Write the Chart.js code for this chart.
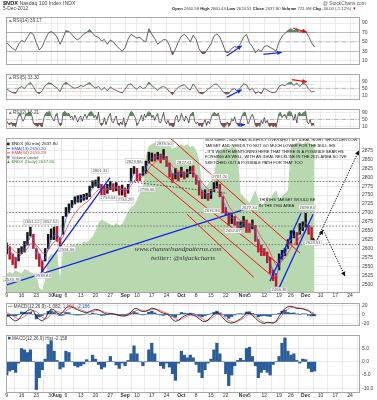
<!DOCTYPE html>
<html>
<head>
<meta charset="utf-8">
<script src="https://cdn.jsdelivr.net/npm/chart.js@4.4.1/dist/chart.umd.min.js"></script>
<style>
html,body{margin:0;padding:0;background:#fff;}
#wrap{position:relative;width:377px;height:400px;overflow:hidden;background:#fff;}
canvas{position:absolute;left:0;}
</style>
</head>
<body>
<div id="wrap">
  <canvas id="cT" width="377" height="12" style="top:0px"></canvas>
  <canvas id="cR14" width="377" height="57" style="top:12px"></canvas>
  <canvas id="cR5" width="377" height="35" style="top:69px"></canvas>
  <canvas id="cR2" width="377" height="29" style="top:104px"></canvas>
  <canvas id="cP" width="377" height="165" style="top:133px"></canvas>
  <canvas id="cM" width="377" height="32" style="top:298px"></canvas>
  <canvas id="cH" width="377" height="70" style="top:330px"></canvas>
</div>
<script>
// NDX 60 min, Jul 9 - Dec 5 2012, one value per trading day (x = trading day index, 0 = Jul 9)
const XMIN = -0.25, XMAX = 119.35;
const FONT = '"Liberation Sans", Arial, sans-serif';

const tickPos  = [0, 5, 10, 15, 17, 20, 25, 30, 35, 40, 44, 49, 54, 59, 64, 69, 74, 80, 82, 87, 92, 96, 101, 106, 111, 116];
const tickText = ['9','16','23','30','Aug','6','13','20','27','Sep','10','17','24','Oct','8','15','22','Nov','5','12','19','26','Dec','10','17','24'];

const priceLow = [2585,2570,2555,2545,2565,2585,2590,2610,2635,2600,
  2570,2550,2535,2565,2600,2625,2625,2620,2601,2640,
  2690,2700,2715,2725,2730,2730,2735,2738,2745,2770,
  2775,2770,2750,2750,2755,2765,2760,2762,2750,2750,
  2744,2755,2790,2810,2790,2790,2805,2810,2840,2845,
  2845,2850,2840,2850,2830,2800,2785,2795,2790,2800,
  2795,2800,2810,2800,2780,2750,2740,2740,2735,2740,
  2760,2770,2745,2700,2695,2665,2670,2665,2645,2650,
  2660,2645,2645,2655,2620,2590,2580,2580,2560,2530,
  2510,2494,2540,2570,2580,2600,2615,2630,2610,2640,
  2650,2660,2640,2624];
const priceHigh = [2615,2605,2585,2575,2600,2605,2620,2645,2660,2640,
  2600,2585,2565,2600,2640,2655,2660,2662,2630,2690,
  2715,2725,2735,2745,2748,2750,2752,2755,2775,2790,
  2792,2801,2780,2775,2780,2788,2782,2785,2775,2778,
  2770,2780,2825,2830,2825,2810,2830,2845,2870,2868,
  2865,2870,2865,2878,2858,2840,2810,2825,2815,2828,
  2815,2822,2830,2832,2805,2790,2760,2765,2755,2765,
  2785,2788,2780,2745,2715,2700,2695,2690,2675,2675,
  2690,2680,2670,2680,2665,2625,2610,2600,2590,2575,
  2540,2530,2585,2595,2600,2625,2650,2650,2645,2670,
  2675,2699,2665,2660];
const ema13 = [2603,2595,2582,2570,2574,2585,2597,2614,2634,2628,
  2603,2582,2563,2572,2600,2625,2637,2640,2625,2648,
  2683,2703,2717,2729,2736,2739,2742,2745,2754,2770,
  2779,2783,2772,2766,2767,2773,2771,2772,2766,2765,
  2760,2765,2792,2811,2809,2803,2812,2823,2845,2853,
  2855,2858,2855,2861,2850,2830,2808,2809,2805,2811,
  2807,2810,2817,2816,2800,2780,2760,2755,2748,2751,
  2766,2775,2767,2737,2714,2692,2686,2680,2666,2664,
  2671,2665,2660,2665,2650,2620,2603,2594,2581,2561,
  2536,2520,2548,2572,2585,2604,2625,2636,2630,2648,
  2658,2673,2660,2650];
const ema34 = [2612,2606,2598,2589,2586,2587,2591,2600,2613,2617,
  2610,2600,2588,2586,2595,2608,2618,2625,2622,2632,
  2653,2670,2685,2698,2709,2717,2724,2730,2737,2748,
  2757,2765,2765,2765,2765,2768,2769,2770,2768,2767,
  2765,2765,2777,2790,2795,2797,2802,2809,2824,2834,
  2841,2847,2849,2853,2851,2843,2830,2824,2818,2817,
  2814,2813,2815,2815,2808,2797,2784,2775,2766,2762,
  2765,2769,2767,2752,2737,2719,2707,2697,2685,2678,
  2677,2674,2670,2669,2662,2645,2630,2618,2605,2590,
  2570,2553,2556,2565,2574,2587,2602,2614,2618,2630,
  2641,2654,2656,2659];
// green background indicator (own hidden 0-100 scale)
const greenArea = [12,13,12,14,13,12,15,14,13,12,
  11,3,1,8,22,25,24,26,9,28,
  30,29,31,30,32,30,33,32,34,36,
  40,45,47,46,45,44,43,45,43,44,
  48,52,55,56,60,64,68,88,95,96,
  97,96,97,96,94,95,93,94,95,96,
  95,96,94,95,92,85,70,68,70,72,
  75,88,92,93,94,93,94,94,92,64,
  62,60,58,62,66,60,56,58,62,60,
  64,66,60,62,64,66,95,96,97,97,
  96,97,97,96,96];

const rsi14 = [48,42,36,32,45,53,50,60,70,66,
  48,33,40,55,68,72,68,60,45,58,
  74,72,66,58,54,60,66,70,76,68,
  62,60,52,55,45,54,50,42,36,30,
  38,56,66,62,58,60,53,50,78,66,
  57,45,50,55,54,42,22,35,50,62,
  66,60,50,64,55,35,25,26,36,45,
  62,67,60,45,28,28,36,40,38,46,
  60,66,48,40,27,34,30,40,42,38,
  35,30,50,62,68,74,78,73,78,70,
  75,72,62,48,39];
const rsi5 = [45,35,25,22,50,60,48,70,82,60,
  30,20,38,65,80,78,62,52,30,70,
  85,70,58,50,55,65,60,72,82,62,
  52,60,40,55,35,58,45,38,30,25,
  45,70,75,55,45,62,48,55,85,65,
  52,40,55,60,50,30,15,40,55,65,
  70,52,40,75,50,25,18,30,45,55,
  72,74,55,32,18,20,42,48,30,55,
  75,70,40,50,22,30,20,50,40,30,
  25,30,60,70,65,78,85,65,80,60,
  78,72,45,30,33];
// two readings per day
const rsi2 = [40,25,18,35,12,20,8,45,75,85,60,40,55,80,85,92,90,70,30,20,
  15,10,25,12,8,55,80,90,92,95,70,55,40,75,85,35,15,20,88,95,
  90,80,85,60,70,45,75,55,35,60,70,40,65,80,55,75,90,95,88,60,
  75,50,92,30,15,25,60,20,45,70,85,40,30,55,70,25,15,35,20,60,
  10,30,55,80,95,90,70,55,15,30,50,75,40,80,60,85,95,88,60,75,
  45,70,85,35,30,60,90,40,25,45,15,20,8,12,60,75,35,50,85,60,
  40,70,55,30,75,85,92,40,25,35,12,20,8,30,50,15,40,25,55,80,
  90,85,75,88,45,20,10,5,15,35,10,20,55,40,65,30,20,10,45,70,
  88,92,60,25,40,65,80,55,15,8,20,10,45,25,60,30,45,15,10,20,
  8,15,5,45,85,90,60,75,80,55,90,95,92,70,45,80,30,85,90,75,
  85,92,95,35,25,50,15,20,16];

const macdLine = [-1.6,-6,-12,-15,-12,-3,3,8,11,8,
  -5,-12,-15,-10,3,12,10,3,0,5,
  14,19,17,13,10,7,5,3,6,9,
  11,10,6,2,0,1,1,-1,-3,-4,
  -4,-1,5,12,13,8,6,7,10,14,
  12,9,5,2,1,-3,-12,-16,-14,-8,
  -4,-1,0,-2,-5,-10,-15,-17,-13,-6,
  0,4,0,-8,-15,-19,-20,-18,-14,-10,
  -5,3,2,-3,-9,-15,-19,-21,-18,-19,
  -20,-16,-5,5,13,17,18,16,13,13,
  12,10,7,2,-2];
const macdSignal = [3,1,-4,-8,-11,-9,-5,0,5,8,
  6,0,-7,-11,-8,0,6,7,4,3,
  7,12,15,15,13,10,8,5,5,6,
  8,9,8,5,3,2,1,0,-1,-3,
  -3,-3,0,5,9,10,8,7,8,11,
  12,11,8,5,3,0,-5,-10,-13,-11,
  -8,-4,-2,-2,-3,-6,-10,-14,-14,-10,
  -5,0,1,-3,-9,-14,-17,-18,-16,-13,
  -9,-3,0,-1,-5,-10,-15,-18,-19,-19,
  -19,-17,-11,-2,6,12,15,16,15,14,
  13,11,9,5,1];
const macdHist = [-5,-3.5,-3,-4,-0.5,5,4.5,3.5,4.5,0,
  -10.5,-6,-3,1,6.5,8,4,0.5,-2.7,-2,
  4,3.5,0,-1.5,-2,-1.5,-0.8,0.8,0,2.5,
  1,-1,-2.7,-2,0,2,0,-1.2,-2.5,-0.5,
  -1.5,0.5,3,6,3,0,-1.5,0,4.5,7,
  3,0,-1.5,-2.5,-0.5,-2,-4.5,-7,-0.5,4,
  2.5,1.5,2.5,1.5,-1,-4,-6,-3,-0.5,1,
  4.5,7,3,0,-4.5,-9,-5,-1.5,0.5,1.3,
  0.5,5,5.5,2,-1.5,-6,-4,-3,-4,-5,
  -1,0,2,7,9,4,2.5,3,0.5,-0.5,
  1,0.8,-2.5,-3.8,-3.5];

// chart annotations, in [day index, price]
const blueLines = [
  [[-2.3, 2492], [82.2, 2715]],
  [[11.2, 2527], [34.9, 2799]],
  [[88.9, 2508], [99.4, 2698]],
  [[92.0, 2489], [103.5, 2696]]
];
const redLines = [
  [[55.2, 2910], [99.1, 2587]],
  [[47.4, 2845], [91.3, 2560]],
  [[47.4, 2818], [91.3, 2511]],
  [[60.9, 2696], [83.5, 2519]]
];
const levelLines = [2788, 2701, 2663, 2611];
const necklines = [[[41, 2788], [74.4, 2755]]];
const pathArrows = [
  [[102.8, 2628], [104.5, 2619]],
  [[104.5, 2619], [119.0, 2875]],
  [[104.5, 2619], [106.9, 2652]],
  [[106.9, 2652], [114.3, 2522]]
];
const priceTags = [
  [1.8, 2514, '2533.78'], [12.3, 2524, '2538.84'], [8.5, 2674, '2651.12'], [14.6, 2674, '2652.52'],
  [20.4, 2598, '2591.56'], [31.5, 2818, '2801.31'], [34.2, 2742, '2759.64'], [40, 2736, '2744.29'],
  [43, 2845, '2829.86'], [47.4, 2766, '2795.66'], [53.2, 2894, '2878.50'], [60, 2842, '2827.61'],
  [69.4, 2706, '2676.96'], [72, 2802, '2781.20'], [76.5, 2650, '2652.07'], [82, 2715, '2677.34'],
  [92, 2484, '2494.38'], [101.5, 2715, '2699.84'], [103.5, 2616, '2624.51']
];
const noteLines = ['NDX 60min - NDX HAS SLIGHTLY OVERSHOT MY IDEAL RIGHT SHOULDER LOW',
  'TARGET AND NEEDS TO NOT GO MUCH LOWER FOR THE BULL IHS',
  '- IT\'S WORTH MENTIONING HERE THAT THERE IS A POSSIBLE BEAR HS',
  'FORMING AS WELL, WITH AN IDEAL NECKLINE IN THE 2615 AREA SO I\'VE',
  'SKETCHED OUT A POSSIBLE PATH FOR THAT TOO'];
const rsi14Arrows = [['#1030e0', [74.3, 20], [79.4, 42]], ['#1030e0', [86.7, 23.5], [92.9, 27.5]], ['#e01010', [96.8, 79], [101.4, 70.5]]];
const rsi5Arrows = [['#1030e0', [74.3, -1], [79.4, 42]], ['#e01010', [96.3, 98], [101.4, 86]]];
const rsi2Arrows = [['#1030e0', [78.1, 18], [80.5, 20]]];

Chart.defaults.font.family = FONT;
Chart.defaults.animation = false;
Chart.defaults.plugins.legend.display = false;
Chart.defaults.plugins.tooltip.enabled = false;

// header line
(function () {
  const ctx = document.getElementById('cT').getContext('2d');
  ctx.textBaseline = 'middle';
  const run = (parts, x, y) => parts.forEach(([t, w, col, sz]) => {
    ctx.font = (w ? 'bold ' : '') + sz + 'px ' + FONT; ctx.fillStyle = col;
    ctx.fillText(t, x, y); x += ctx.measureText(t).width;
  });
  run([['$NDX ', 1, '#222', 5.6], ['Nasdaq 100 Index INDX', 0, '#444', 5.2]], 3, 3.5);
  run([['5-Dec-2012', 0, '#444', 4.8]], 3, 9);
  run([['@ StockCharts.com', 0, '#555', 4.8]], 323, 3.5);
  const S = 4.2;
  run([['Open ', 1, '#222', S], ['2660.58 ', 0, '#444', S], ['High ', 1, '#222', S], ['2660.44 ', 0, '#444', S],
       ['Low ', 1, '#222', S], ['2624.51 ', 0, '#444', S], ['Close ', 1, '#222', S], ['2637.80 ', 0, '#444', S],
       ['Volume ', 1, '#222', S], ['721.0M ', 0, '#444', S], ['Chg ', 1, '#222', S], ['-30.00 (-1.12%) ', 0, '#444', S],
       ['\u25BC', 0, '#d01010', S]], 172, 9);
})();

const xy = arr => arr.map((v, i) => ({ x: i, y: v }));
const seg = (a, b) => [{ x: a[0], y: a[1] }, { x: b[0], y: b[1] }];

function xScale(showLabels, h) {
  return {
    type: 'linear', min: XMIN, max: XMAX, offset: false,
    afterBuildTicks: s => { s.ticks = tickPos.map(v => ({ value: v })); },
    afterFit: s => { s.height = h; },
    grid: { color: '#e3e3e3', lineWidth: 0.7, drawTicks: false },
    border: { display: false },
    ticks: {
      display: showLabels, autoSkip: false, maxRotation: 0, padding: 1, color: '#333',
      font: c => ({ size: 5, weight: isNaN(+tickText[c.index]) ? 'bold' : 'normal' }),
      callback: (v, i) => tickText[i]
    }
  };
}
function yScale(min, max, ticks, fmt, gridColor) {
  return {
    position: 'right', min, max,
    afterBuildTicks: s => { s.ticks = ticks.map(v => ({ value: v })); },
    afterFit: s => { s.width = 17; },
    grid: { color: gridColor || '#e3e3e3', lineWidth: 0.7, drawTicks: false },
    border: { display: false },
    ticks: { font: { size: 5 }, color: '#444', padding: 2, callback: fmt || (v => v) }
  };
}

function arrow(ctx, x1, y1, x2, y2, color, dash, w) {
  ctx.save();
  ctx.strokeStyle = color; ctx.fillStyle = color; ctx.lineWidth = w;
  ctx.setLineDash(dash);
  ctx.beginPath(); ctx.moveTo(x1, y1); ctx.lineTo(x2, y2); ctx.stroke();
  ctx.setLineDash([]);
  const a = Math.atan2(y2 - y1, x2 - x1), L = 4.5, H = 2.2;
  ctx.beginPath();
  ctx.moveTo(x2, y2);
  ctx.lineTo(x2 - L * Math.cos(a) + H * Math.sin(a), y2 - L * Math.sin(a) - H * Math.cos(a));
  ctx.lineTo(x2 - L * Math.cos(a) - H * Math.sin(a), y2 - L * Math.sin(a) + H * Math.cos(a));
  ctx.closePath(); ctx.fill();
  ctx.restore();
}

const frame = {
  id: 'frame',
  afterDraw(c) {
    const a = c.chartArea, ctx = c.ctx;
    ctx.save(); ctx.strokeStyle = '#a8a8a8'; ctx.lineWidth = 1;
    ctx.strokeRect(Math.round(a.left) + 0.5, Math.round(a.top) + 0.5, Math.round(a.width) - 1, Math.round(a.height));
    ctx.restore();
  }
};

function rsiChart(id, vals, step, ymin, ymax, name, arrows) {
  const pts = vals.map((v, i) => ({ x: i * step, y: v }));
  return new Chart(document.getElementById(id), {
    type: 'line',
    data: {
      datasets: [
        { data: pts, borderWidth: 0, pointRadius: 0, fill: { target: { value: 70 }, above: '#5b8a5b', below: 'rgba(0,0,0,0)' } },
        { data: pts, borderWidth: 0, pointRadius: 0, fill: { target: { value: 30 }, above: 'rgba(0,0,0,0)', below: '#8e4b4b' } },
        { data: [{ x: XMIN, y: 50 }, { x: XMAX, y: 50 }], borderColor: '#999', borderWidth: 0.7, borderDash: [4, 1.5, 1, 1.5], pointRadius: 0 },
        { data: pts, borderColor: '#222', borderWidth: 0.7, pointRadius: 0, tension: 0 }
      ]
    },
    options: {
      responsive: false, devicePixelRatio: 1,
      layout: { padding: { left: 6 } },
      scales: {
        x: xScale(false, 0),
        y: yScale(ymin, ymax, [10, 30, 50, 70, 90], null, c => (c.tick.value === 70 || c.tick.value === 30) ? '#a0a0a0' : '#e3e3e3')
      }
    },
    plugins: [frame, {
      id: 'rsiNotes',
      afterDatasetsDraw(c) {
        const { x, y } = c.scales, ctx = c.ctx;
        arrows.forEach(([col, a, b]) => arrow(ctx, x.getPixelForValue(a[0]), y.getPixelForValue(a[1]), x.getPixelForValue(b[0]), y.getPixelForValue(b[1]), col, [], 1.2));
        ctx.save(); ctx.font = '4.6px ' + FONT; ctx.textBaseline = 'top';
        ctx.fillStyle = '#777'; ctx.fillText('\u25B2', c.chartArea.left + 2, c.chartArea.top + 1.5);
        ctx.fillStyle = '#444'; ctx.fillText(name, c.chartArea.left + 7, c.chartArea.top + 1.5);
        ctx.restore();
      }
    }]
  });
}

rsiChart('cR14', rsi14, 1, 3, 102.8, 'RSI(14) 39.17', rsi14Arrows);
rsiChart('cR5', rsi5, 1, -10, 130, 'RSI(5) 33.30', rsi5Arrows);
rsiChart('cR2', rsi2, 0.5, 1, 110, 'RSI(2) 16.21', rsi2Arrows);

// price panel
const bars = priceLow.map((l, i) => ({ x: i, y: [l, priceHigh[i]] }));
const mid = priceLow.map((l, i) => (l + priceHigh[i]) / 2);
const lineSet = (pts, color, w, dash) => ({ type: 'line', data: pts, borderColor: color, borderWidth: w, borderDash: dash || [], pointRadius: 0, order: 0 });

const annot = {
  id: 'annot',
  afterDatasetsDraw(c) {
    const { x, y } = c.scales, ctx = c.ctx, T = c.chartArea.top;
    const px = v => x.getPixelForValue(v), py = v => y.getPixelForValue(v);
    pathArrows.forEach(([a, b]) => arrow(ctx, px(a[0]), py(a[1]), px(b[0]), py(b[1]), '#111', [1.3, 1.3], 1));
    ctx.save();
    ctx.font = '4.2px ' + FONT; ctx.textAlign = 'center'; ctx.textBaseline = 'middle';
    priceTags.forEach(([i, v, t]) => {
      const w = ctx.measureText(t).width + 2, X = px(i), Y = py(v);
      ctx.fillStyle = 'rgba(255,255,255,0.9)'; ctx.fillRect(X - w / 2, Y - 2.6, w, 5.2);
      ctx.strokeStyle = '#bbb'; ctx.lineWidth = 0.5; ctx.strokeRect(X - w / 2, Y - 2.6, w, 5.2);
      ctx.fillStyle = '#555'; ctx.fillText(t, X, Y + 0.2);
    });
    // page coords -> canvas coords: subtract the panel top (133)
    ctx.textAlign = 'left'; ctx.fillStyle = '#111'; ctx.font = '4.0px ' + FONT;
    noteLines.forEach((t, k) => ctx.fillText(t, 205, 140 - 133 + k * 5.7));
    ['THIS IHS TARGET WOULD BE', 'IN THE 2900 AREA'].forEach((t, k) => ctx.fillText(t, 259, 200 - 133 + k * 5.8));
    ctx.font = 'italic 7px "Liberation Serif", serif'; ctx.fillStyle = '#333'; ctx.textAlign = 'center';
    ctx.fillText('www.channelsandpatterns.com', 178, 249 - 133);
    ctx.fillText('twitter: @shjackcharts', 183, 258 - 133);
    // legend
    ctx.textAlign = 'left'; ctx.font = '4.4px ' + FONT;
    const leg = [['$NDX (60 min) 2637.80', '#222', 'sq', '#222'], ['EMA(13) 2650.20', '#2a4fd6', 'ln', '#2a4fd6'],
      ['EMA(34) 2659.28', '#e04040', 'ln', '#e04040'], ['Volume undef', '#555', 'sq', '#888'], ['$NDX (Daily) 2637.80', '#3c8a3c', 'tr', '#3c8a3c']];
    leg.forEach(([t, col, ic, icol], k) => {
      const Y = T + 6 + k * 4.4;
      ctx.fillStyle = icol;
      if (ic === 'sq') ctx.fillRect(7, Y - 1.3, 2.6, 2.6);
      else if (ic === 'ln') ctx.fillRect(6.5, Y - 0.4, 3.5, 0.9);
      else { ctx.beginPath(); ctx.moveTo(7, Y + 1.4); ctx.lineTo(8.4, Y - 1.4); ctx.lineTo(9.8, Y + 1.4); ctx.fill(); }
      ctx.fillStyle = col; ctx.fillText(t, 11.5, Y + 0.2);
    });
    ctx.restore();
  }
};

new Chart(document.getElementById('cP'), {
  type: 'bar',
  data: {
    datasets: [
      { type: 'line', data: xy(greenArea), yAxisID: 'yg', borderWidth: 0, pointRadius: 0, fill: 'origin', backgroundColor: '#b8d8b0', order: 10 },
      ...levelLines.map(v => lineSet(seg([XMIN, v], [XMAX, v]), '#666', 0.8, [1.6, 1.6])),
      ...necklines.map(s => lineSet(seg(s[0], s[1]), '#333', 0.8, [1.6, 1.6])),
      { type: 'bar', data: bars, barThickness: 1.8, order: 2,
        backgroundColor: c => (c.dataIndex > 0 && mid[c.dataIndex] < mid[c.dataIndex - 1]) ? '#c0182a' : '#151515' },
      { type: 'line', data: xy(ema34), borderColor: '#ef4848', borderWidth: 0.8, pointRadius: 0, order: 1 },
      { type: 'line', data: xy(ema13), borderColor: '#3f63e8', borderWidth: 0.8, pointRadius: 0, order: 1 },
      ...redLines.map(s => lineSet(seg(s[0], s[1]), '#ff1010', 1, [])),
      ...blueLines.map(s => lineSet(seg(s[0], s[1]), '#1020f0', 1.3, []))
    ]
  },
  options: {
    responsive: false, devicePixelRatio: 1,
    layout: { padding: { left: 6 } },
    scales: {
      x: xScale(true, 6),
      y: yScale(2478, 2910, [2500, 2525, 2550, 2575, 2600, 2625, 2650, 2675, 2700, 2725, 2750, 2775, 2800, 2825, 2850, 2875]),
      yg: { display: false, min: 0, max: 100 }
    }
  },
  plugins: [frame, annot]
});

// MACD panel
new Chart(document.getElementById('cM'), {
  type: 'bar',
  data: {
    datasets: [
      { type: 'bar', data: xy(macdHist), barThickness: 2.6, backgroundColor: '#2a5c9c', order: 3 },
      { type: 'line', data: xy(macdSignal), borderColor: '#f05050', borderWidth: 0.8, pointRadius: 0, order: 2 },
      { type: 'line', data: xy(macdLine), borderColor: '#111', borderWidth: 0.8, pointRadius: 0, order: 1 }
    ]
  },
  options: {
    responsive: false, devicePixelRatio: 1,
    layout: { padding: { left: 6 } },
    scales: { x: xScale(false, 0), y: yScale(-24.2, 25.3, [-20, -10, 0, 10, 20]) }
  },
  plugins: [frame, {
    id: 'mt',
    afterDraw(c) {
      const ctx = c.ctx; ctx.save(); ctx.font = '4.6px ' + FONT; ctx.textBaseline = 'top';
      let x = 8; const y = c.chartArea.top + 1.2;
      [['\u2014 ', '#222'], ['MACD(12,26,9) -1.082, ', '#444'], ['1.104, ', '#e04040'], ['-2.186', '#2a5c9c']].forEach(p => {
        ctx.fillStyle = p[1]; ctx.fillText(p[0], x, y); x += ctx.measureText(p[0]).width;
      });
      ctx.restore();
    }
  }]
});

// MACD histogram panel
new Chart(document.getElementById('cH'), {
  type: 'bar',
  data: { datasets: [{ data: xy(macdHist), barThickness: 2.6, backgroundColor: '#2a5c9c' }] },
  options: {
    responsive: false, devicePixelRatio: 1,
    layout: { padding: { left: 6 } },
    scales: {
      x: xScale(true, 8),
      y: yScale(-11.4, 10.1, [-10, -7.5, -5, -2.5, 0, 2.5, 5, 7.5], v => v.toFixed(1))
    }
  },
  plugins: [frame, {
    id: 'ht',
    afterDraw(c) {
      const ctx = c.ctx; ctx.save(); ctx.font = '4.6px ' + FONT; ctx.textBaseline = 'top';
      ctx.fillStyle = '#2a5c9c'; ctx.fillRect(8, c.chartArea.top + 1.8, 2.6, 2.6);
      ctx.fillStyle = '#444'; ctx.fillText('MACD(12,26,9) Hist -2.158', 12, c.chartArea.top + 1.2);
      ctx.restore();
    }
  }]
});
</script>
</body>
</html>
